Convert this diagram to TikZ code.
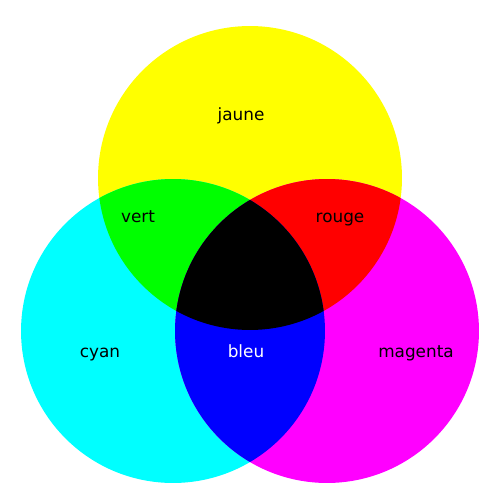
\documentclass[tikz,border=0pt]{standalone}
\usepackage{fontspec}
\setmainfont{DejaVu Sans}
\definecolor{cJaune}{RGB}{255,255,0}
\definecolor{cCyan}{RGB}{0,255,255}
\definecolor{cMagenta}{RGB}{255,0,255}
\definecolor{cVert}{RGB}{0,255,0}
\definecolor{cRouge}{RGB}{255,0,0}
\definecolor{cBleu}{RGB}{0,0,255}
\begin{document}
\begin{tikzpicture}[x=0.02cm,y=-0.02cm,
  lbl/.style={anchor=base,inner sep=0pt,font=\fontsize{9.6pt}{11pt}\selectfont}]
\useasboundingbox[fill=white] (0,0) rectangle (500,500);
\def\R{3.04cm}
\coordinate (Y) at (250,178);
\coordinate (C) at (173,331);
\coordinate (M) at (327,331);
\fill[cJaune] (Y) circle[radius=\R];
\fill[cCyan] (C) circle[radius=\R];
\fill[cMagenta] (M) circle[radius=\R];
\begin{scope}
  \clip (Y) circle[radius=\R];
  \fill[cVert] (C) circle[radius=\R];
  \fill[cRouge] (M) circle[radius=\R];
\end{scope}
\begin{scope}
  \clip (C) circle[radius=\R];
  \fill[cBleu] (M) circle[radius=\R];
  \clip (M) circle[radius=\R];
  \fill[black] (Y) circle[radius=\R];
\end{scope}
\node[lbl] (jaune) at (241,120) {jaune};
\node[lbl] (vert) at (138,222) {vert};
\node[lbl] (rouge) at (340,222) {rouge};
\node[lbl] (cyanl) at (100,357) {cyan};
\node[lbl,text=white] (bleu) at (246,357) {bleu};
\node[lbl] (magenta) at (416,357) {magenta};
\end{tikzpicture}
\end{document}
